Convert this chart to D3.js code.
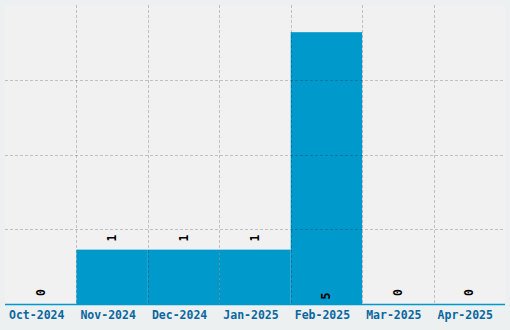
<!DOCTYPE html>
<html>
<head>
<meta charset="utf-8">
<script src="https://cdn.jsdelivr.net/npm/d3@7"></script>
<style>
  body { margin: 0; background: #edf0f1; }
  svg { display: block; }
</style>
</head>
<body>
<svg id="chart" width="510" height="330"></svg>
<script>
// data
let months = ["Oct-2024", "Nov-2024", "Dec-2024", "Jan-2025", "Feb-2025", "Mar-2025", "Apr-2025"];
let counts = [0, 1, 1, 1, 5, 0, 0];

let width = 510, height = 330;
let plot = {left: 5, right: 505, top: 5, bottom: 304};
let barColor = "#0099cc";
let textColor = "#0b67a0";
let font = "'DejaVu Sans Mono', 'Liberation Mono', monospace";

let svg = d3.select("#chart");

let yMax = d3.max(counts) * 1.1;

let xScale = d3.scaleBand()
    .domain(months)
    .range([plot.left, plot.right]);

let yScale = d3.scaleLinear()
    .domain([0, yMax])
    .range([plot.bottom, plot.top]);

// plot background
svg.append("rect")
    .attr("x", plot.left)
    .attr("y", plot.top)
    .attr("width", plot.right - plot.left)
    .attr("height", plot.bottom - plot.top)
    .attr("fill", "#f1f1f1");

// bars
svg.selectAll(".bar")
    .data(months)
    .enter()
    .append("rect")
    .attr("class", "bar")
    .attr("x", d => xScale(d))
    .attr("width", xScale.bandwidth())
    .attr("y", (d, i) => yScale(counts[i]))
    .attr("height", (d, i) => plot.bottom - yScale(counts[i]))
    .attr("fill", barColor);

// grid drawn over the bars, 4 equal rows
let gridColor = "rgba(0,0,0,0.2)";
let gridValues = d3.range(1, 4).map(i => yMax * i / 4);
svg.selectAll(".hgrid")
    .data(gridValues)
    .enter()
    .append("line")
    .attr("x1", plot.left)
    .attr("x2", plot.right)
    .attr("y1", d => Math.round(yScale(d)) + 0.5)
    .attr("y2", d => Math.round(yScale(d)) + 0.5)
    .attr("stroke", gridColor)
    .attr("stroke-dasharray", "3,2");

svg.selectAll(".vgrid")
    .data(months.slice(1))
    .enter()
    .append("line")
    .attr("x1", d => Math.round(xScale(d)) + 0.5)
    .attr("x2", d => Math.round(xScale(d)) + 0.5)
    .attr("y1", plot.top)
    .attr("y2", plot.bottom)
    .attr("stroke", gridColor)
    .attr("stroke-dasharray", "3,2");

// x axis line
svg.append("line")
    .attr("x1", plot.left)
    .attr("x2", plot.right)
    .attr("y1", plot.bottom + 0.5)
    .attr("y2", plot.bottom + 0.5)
    .attr("stroke", barColor)
    .attr("stroke-width", 1.5);

// x axis labels
svg.selectAll(".xlabel")
    .data(months)
    .enter()
    .append("text")
    .attr("x", d => xScale(d) + xScale.bandwidth() / 2 - 4)
    .attr("y", 319)
    .attr("text-anchor", "middle")
    .style("font-family", font)
    .style("font-weight", "bold")
    .style("font-size", "11.5px")
    .style("fill", textColor)
    .text(d => d);

// value labels, rotated; tall bars get the label inside at the bottom
svg.selectAll(".vlabel")
    .data(months)
    .enter()
    .append("text")
    .attr("transform", function(d, i) {
        let cx = xScale(d) + xScale.bandwidth() / 2 + 4;
        let top = yScale(counts[i]);
        let cy = (plot.bottom - top) > 0.8 * (plot.bottom - plot.top) ? plot.bottom - 8 : top - 11.5;
        return "translate(" + cx + "," + cy + ") rotate(-90)";
    })
    .attr("text-anchor", "middle")
    .style("font-family", font)
    .style("font-weight", "bold")
    .style("font-size", "11.5px")
    .style("fill", "#000")
    .text((d, i) => counts[i]);
</script>
</body>
</html>
